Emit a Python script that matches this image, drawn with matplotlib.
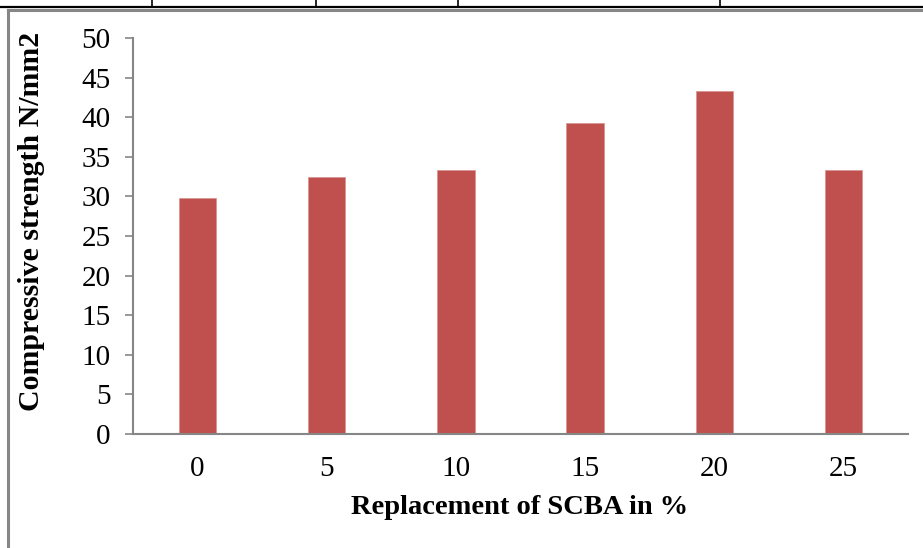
import numpy as np
import matplotlib
matplotlib.use('Agg')
import matplotlib.pyplot as plt
from matplotlib.lines import Line2D

replacement = ['0', '5', '10', '15', '20', '25']
strength = [29.8, 32.5, 33.3, 39.3, 43.3, 33.3]

plt.rcParams['font.family'] = ['Liberation Serif', 'DejaVu Serif']

W, H = 923, 548
fig = plt.figure(figsize=(W / 100, H / 100), dpi=100)
ax = fig.add_axes([133 / W, 1 - 434 / H, (908 - 133) / W, (434 - 38) / H])

x = np.arange(len(replacement))
ax.bar(x, strength, width=0.29, color='#C0504D', edgecolor='#D99694', linewidth=0.6)

grey = '#868686'
ax.set_xlim(-0.5, len(replacement) - 0.5)
ax.set_ylim(0, 50)
ax.set_yticks(np.arange(0, 51, 5))
ax.set_xticks(x)
ax.set_xticklabels(replacement)
for s in ['top', 'right']:
    ax.spines[s].set_visible(False)
for s in ['left', 'bottom']:
    ax.spines[s].set_color(grey)
    ax.spines[s].set_linewidth(1.5)
ax.tick_params(axis='y', direction='out', length=6, width=1.2, color=grey,
               labelsize=21, pad=10)
ax.tick_params(axis='x', length=0, labelsize=21, pad=16)

ax.set_ylabel('Compressive strength N/mm2', fontsize=21.5, fontweight='bold')
ax.yaxis.set_label_coords(32 / W, 1 - 221 / H, transform=fig.transFigure)
ax.yaxis.label.set_verticalalignment('center')
ax.set_xlabel('Replacement of SCBA in %', fontsize=20.5, fontweight='bold')
ax.xaxis.set_label_coords(520 / W, 1 - 507 / H, transform=fig.transFigure)
ax.xaxis.label.set_verticalalignment('center')


def px_line(xs, ys, color, lw):
    fig.add_artist(Line2D([v / W for v in xs], [1 - v / H for v in ys],
                          transform=fig.transFigure, color=color, linewidth=lw))


# remains of the table above the chart
px_line([0, W], [7, 7], 'black', 1.6)
for xv in [152, 316, 458, 720]:
    px_line([xv, xv], [0, 7], 'black', 1.2)
# chart frame
px_line([8, W], [10, 10], grey, 2.2)
px_line([8, 8], [10, H], grey, 2.2)

fig.savefig('out.png', dpi=100)
